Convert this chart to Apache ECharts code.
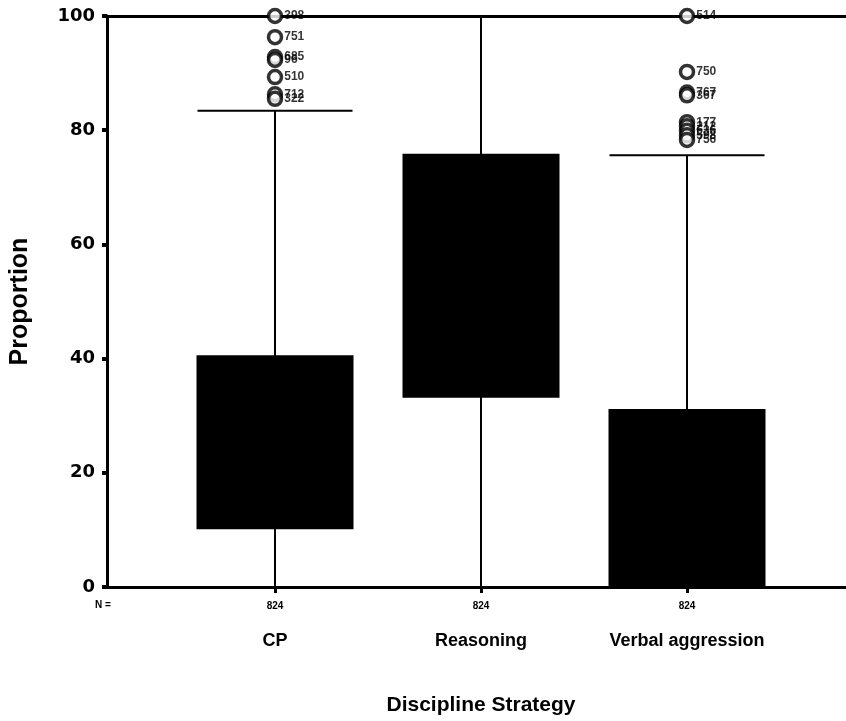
<!DOCTYPE html>
<html>
<head>
<meta charset="utf-8">
<script src="https://cdn.jsdelivr.net/npm/echarts@6/dist/echarts.min.js"></script>
<style>html,body{margin:0;padding:0;background:#fff}#c{width:846px;height:721px}</style>
</head>
<body>
<div id="c"></div>
<script>
// ---- data ----
var categories = ['CP', 'Reasoning', 'Verbal aggression'];
var nValues = [824, 824, 824];
// [min, Q1, median, Q3, max]
var boxCP = [0, 10.3, 24, 40.4, 83.4];
var boxReasoning = [0, 33.3, 54, 75.7, 100];
var boxVerbal = [0, 0, 11, 31.0, 75.6];
var yTicks = [0, 20, 40, 60, 80, 100];
var cpOutliers = [100, 96.3, 92.8, 92.3, 89.3, 86.3, 85.5];
var cpOutlierIds = ['398', '751', '685', '96', '510', '712', '322'];
var verbalOutliers = [100, 90.2, 86.6, 86.1, 81.4, 80.7, 79.9, 79.1, 78.3];
var verbalOutlierIds = ['514', '750', '767', '367', '177', '212', '636', '598', '756'];

var FONT = '"Liberation Sans", Arial, sans-serif';
var WIDE = '"DejaVu Sans", sans-serif';

function outlierData(catIndex, vals, ids) {
  return vals.map(function (v, i) { return { value: [categories[catIndex], v], name: ids[i] }; });
}
var outliers = outlierData(0, cpOutliers, cpOutlierIds).concat(outlierData(2, verbalOutliers, verbalOutlierIds));

var frameLine = { show: true, lineStyle: { color: '#000', width: 3 } };

var chart = echarts.init(document.getElementById('c'), null, { renderer: 'canvas' });
chart.setOption({
  backgroundColor: '#fff',
  animation: false,
  graphic: [{
    type: 'text', left: 95, top: 600,
    style: { text: 'N =', font: 'bold 10px ' + FONT, fill: '#000' }
  }],
  grid: [
    { left: 106, right: 0, top: 16, bottom: 134 },
    { left: 172, right: 56, top: 16, bottom: 134 }
  ],
  xAxis: [
    { gridIndex: 0, type: 'value', min: 0, max: 1, position: 'bottom', axisLine: frameLine, axisTick: { show: false }, axisLabel: { show: false }, splitLine: { show: false } },
    {
      gridIndex: 1, type: 'category', data: categories, boundaryGap: true,
      axisLine: { show: false },
      axisTick: { show: true, alignWithLabel: true, length: 6, lineStyle: { color: '#000', width: 3 } },
      axisLabel: {
        margin: 10, interval: 0,
        formatter: function (v, i) { return '{n|' + nValues[i] + '}\n{c|' + v + '}'; },
        rich: {
          n: { fontFamily: FONT, fontSize: 10, fontWeight: 'bold', color: '#000', lineHeight: 18 },
          c: { fontFamily: FONT, fontSize: 18, fontWeight: 'bold', color: '#000', lineHeight: 52 }
        }
      },
      name: 'Discipline Strategy', nameLocation: 'middle', nameGap: 108,
      nameTextStyle: { fontFamily: FONT, fontSize: 21, fontWeight: 'bold', color: '#000' }
    },
    { gridIndex: 0, type: 'value', min: 0, max: 1, position: 'top', axisLine: frameLine, axisTick: { show: false }, axisLabel: { show: false }, splitLine: { show: false } }
  ],
  yAxis: [
    {
      gridIndex: 0, type: 'value', min: yTicks[0], max: yTicks[yTicks.length - 1], interval: 20,
      axisLine: frameLine,
      axisTick: { show: true, length: 5, lineStyle: { color: '#000', width: 4 } },
      axisLabel: { margin: 12, fontFamily: WIDE, fontSize: 18, fontWeight: 'bold', color: '#000' },
      splitLine: { show: false },
      name: 'Proportion', nameLocation: 'middle', nameGap: 74, nameRotate: 90,
      nameTextStyle: { fontFamily: FONT, fontSize: 25, fontWeight: 'bold', color: '#000' }
    },
    { gridIndex: 1, type: 'value', min: 0, max: 100, show: false, splitLine: { show: false } }
  ],
  series: [
    {
      type: 'boxplot', xAxisIndex: 1, yAxisIndex: 1,
      data: [boxCP, boxReasoning, boxVerbal],
      boxWidth: [155, 155],
      itemStyle: { color: '#000', borderColor: '#000', borderWidth: 2 }
    },
    {
      type: 'scatter', xAxisIndex: 1, yAxisIndex: 1,
      data: outliers,
      symbol: 'circle', symbolSize: 13,
      itemStyle: { color: '#fff', borderColor: '#000', borderWidth: 3.5 },
      label: {
        show: true, position: 'right', distance: 1,
        formatter: function (p) { return p.name; },
        fontFamily: FONT, fontSize: 12, fontWeight: 'bold', color: '#000'
      }
    }
  ]
});
</script>
</body>
</html>
